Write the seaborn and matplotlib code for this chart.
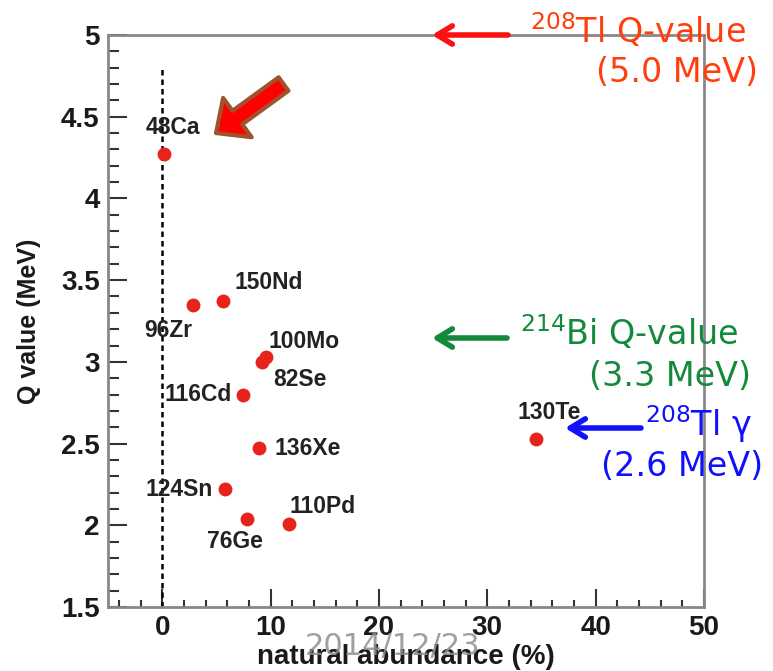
import matplotlib
matplotlib.use("Agg")
import matplotlib.pyplot as plt
from matplotlib.ticker import MultipleLocator
import seaborn as sns
import pandas as pd

# ---- data ----
isotopes = ["48Ca", "96Zr", "150Nd", "100Mo", "82Se", "116Cd",
            "136Xe", "124Sn", "76Ge", "110Pd", "130Te"]
abundance = [0.19, 2.8, 5.6, 9.6, 9.2, 7.5, 8.9, 5.8, 7.8, 11.7, 34.5]
qvalue = [4.27, 3.35, 3.37, 3.03, 3.00, 2.80, 2.47, 2.22, 2.04, 2.01, 2.53]
# label offsets (pixels) and alignment for each isotope label
label_dx = [9, -24, 12, 2, 11, -12, 16, -12, -12, 1, 13]
label_dy = [27, -26, 19, 15, -18, 0, 0, 0, -23, 17, 26]
label_ha = ["center", "center", "left", "left", "left", "right",
            "left", "right", "center", "left", "center"]

xticks = [0, 10, 20, 30, 40, 50]
xtick_labels = ["0", "10", "20", "30", "40", "50"]
yticks = [1.5, 2, 2.5, 3, 3.5, 4, 4.5, 5]
ytick_labels = ["1.5", "2", "2.5", "3", "3.5", "4", "4.5", "5"]

df = pd.DataFrame({"isotope": isotopes, "abundance": abundance, "q": qvalue})

sns.set_theme(style="ticks")
plt.rcParams["font.family"] = ["Liberation Sans", "DejaVu Sans"]
plt.rcParams["mathtext.default"] = "regular"

W, H = 773, 671
fig = plt.figure(figsize=(W / 100, H / 100), dpi=100)
fig.patch.set_facecolor("white")
ax = fig.add_axes([108 / W, 1 - 607 / H, (704 - 108) / W, (607 - 35) / H])

ax.axvline(0, ymin=0, ymax=(4.79 - 1.5) / 3.5, color="black", lw=1.8,
           ls=(0, (2.2, 1.6)), zorder=1)

sns.scatterplot(data=df, x="abundance", y="q", ax=ax, color="#e8231b",
                s=100, linewidth=0, zorder=3, legend=False)

for name, x, y, dx, dy, ha in zip(isotopes, abundance, qvalue, label_dx, label_dy, label_ha):
    ax.annotate(name, (x, y), xytext=(dx, dy), textcoords="offset pixels",
                ha=ha, va="center", fontsize=16.5, fontweight="bold",
                color="#222222", zorder=4)

ax.set_xlim(-5, 50)
ax.set_ylim(1.5, 5)
ax.set_xticks(xticks)
ax.set_xticklabels(xtick_labels)
ax.set_yticks(yticks)
ax.set_yticklabels(ytick_labels)
ax.xaxis.set_minor_locator(MultipleLocator(2))
ax.yaxis.set_minor_locator(MultipleLocator(0.1))
ax.tick_params(axis="both", which="both", direction="in", color="#333333", width=1.5)
ax.tick_params(axis="y", which="major", length=14, pad=6)
ax.tick_params(axis="y", which="minor", length=8)
ax.tick_params(axis="x", which="major", length=13, pad=6)
ax.tick_params(axis="x", which="minor", length=5)
ax.tick_params(axis="both", which="both", top=False, right=False)
for lab in ax.get_xticklabels() + ax.get_yticklabels():
    lab.set_fontsize(20)
    lab.set_fontweight("bold")
    lab.set_color("#1a1a1a")

for sp in ax.spines.values():
    sp.set_color("#888888")
    sp.set_linewidth(2)

ax.set_xlabel("natural abundance (%)", fontsize=20, fontweight="bold",
              color="#1a1a1a", labelpad=2)
ax.set_ylabel("Q value (MeV)", fontsize=18, fontweight="bold",
              color="#1a1a1a", labelpad=14)

# big red arrow pointing to 48Ca
ax.annotate("", xy=(4.97, 4.40), xytext=(11.2, 4.70),
            arrowprops=dict(arrowstyle="simple,head_length=0.95,head_width=1.75,tail_width=0.6",
                            fc="#ff0000", ec="#a0522d", lw=3, mutation_scale=20,
                            shrinkA=0, shrinkB=0),
            zorder=5)

# external annotations (figure pixel coords, origin bottom-left)
def fy(y):
    return H - y

ann_font = ["DejaVu Sans"]
arrow_style = "->,head_length=0.9,head_width=0.55"

# red: 208Tl Q-value
ax.annotate("", xy=(432, fy(35)), xycoords="figure pixels",
            xytext=(508, fy(35)), textcoords="figure pixels",
            arrowprops=dict(arrowstyle=arrow_style, color="#ff1010", lw=4,
                            shrinkA=0, shrinkB=0), annotation_clip=False)
fig.text(746 / W, 1 - 31 / H, r"$^{208}$Tl Q-value", ha="right", va="center",
         fontsize=24, color="#ff3d0d", family=ann_font)
fig.text(758 / W, 1 - 72 / H, "(5.0 MeV)", ha="right", va="center",
         fontsize=24, color="#ff3d0d", family=ann_font)

# green: 214Bi Q-value
ax.annotate("", xy=(432, fy(338)), xycoords="figure pixels",
            xytext=(507, fy(338)), textcoords="figure pixels",
            arrowprops=dict(arrowstyle=arrow_style, color="#138a3b", lw=4,
                            shrinkA=0, shrinkB=0), annotation_clip=False)
fig.text(738 / W, 1 - 333 / H, r"$^{214}$Bi Q-value", ha="right", va="center",
         fontsize=24, color="#138a3b", family=ann_font)
fig.text(751 / W, 1 - 376 / H, "(3.3 MeV)", ha="right", va="center",
         fontsize=24, color="#138a3b", family=ann_font)

# blue: 208Tl gamma
ax.annotate("", xy=(565, fy(428)), xycoords="figure pixels",
            xytext=(641, fy(428)), textcoords="figure pixels",
            arrowprops=dict(arrowstyle=arrow_style, color="#1010ff", lw=4,
                            shrinkA=0, shrinkB=0), annotation_clip=False)
fig.text(752 / W, 1 - 424 / H, r"$^{208}$Tl γ", ha="right", va="center",
         fontsize=24, color="#1010ff", family=ann_font)
fig.text(763 / W, 1 - 467 / H, "(2.6 MeV)", ha="right", va="center",
         fontsize=24, color="#1010ff", family=ann_font)

# date watermark (overlaps the axis title, as in the original slide)
fig.text(393 / W, 1 - 647 / H, "2014/12/23", ha="center", va="center",
         fontsize=22, color="#8f8f8f", alpha=0.85, family=ann_font, zorder=10)

fig.savefig("out.png", dpi=100, facecolor="white")
